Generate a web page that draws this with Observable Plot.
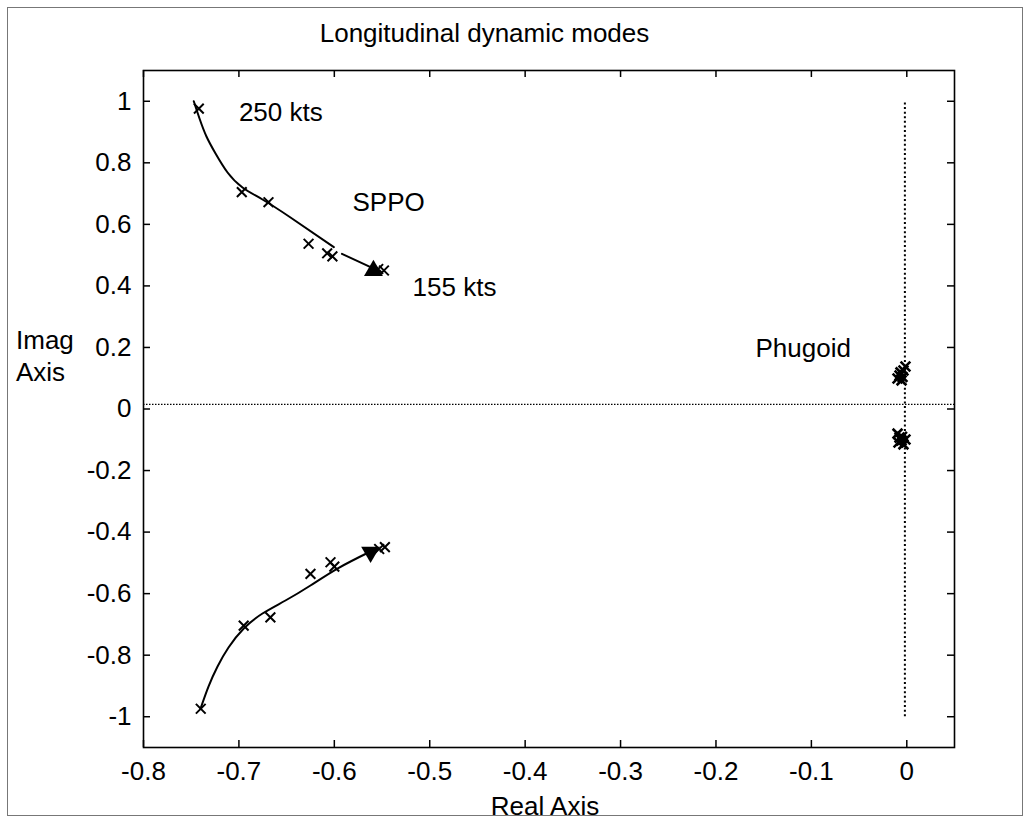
<!DOCTYPE html>
<html>
<head>
<meta charset="utf-8">
<script src="https://cdn.jsdelivr.net/npm/d3@7"></script>
<script src="https://cdn.jsdelivr.net/npm/@observablehq/plot@0.6"></script>
<style>
  body { margin: 0; background: #fff; }
  #wrap { position: relative; width: 1030px; height: 822px; overflow: hidden;
          font-family: "Liberation Sans", Arial, Helvetica, sans-serif; color: #000; }
  .lbl { position: absolute; font-size: 26px; line-height: 26px; white-space: nowrap; }
  #border { position: absolute; left: 7px; top: 7px; width: 1014px; height: 807px; border: 1px solid #777; }
  #chart { position: absolute; left: 0; top: 0; }
</style>
</head>
<body>
<div id="wrap">
  <div id="border"></div>
  <div id="chart"></div>
  <div class="lbl" style="left:484.5px; top:20px; transform:translateX(-50%);">Longitudinal dynamic modes</div>
  <div class="lbl" style="left:16px; top:325px; line-height:31.7px;">Imag<br>Axis</div>
  <div class="lbl" style="left:545px; top:793px; transform:translateX(-50%);">Real Axis</div>
</div>
<script>
// ---- axis ticks ----
const xTicks = [-0.8, -0.7, -0.6, -0.5, -0.4, -0.3, -0.2, -0.1, 0];
const yTicks = [-1, -0.8, -0.6, -0.4, -0.2, 0, 0.2, 0.4, 0.6, 0.8, 1];

// ---- SPPO poles (x marks), upper branch ----
const sppoUpperRe = [-0.742, -0.697, -0.669, -0.627, -0.6075, -0.602, -0.554, -0.548];
const sppoUpperIm = [0.976, 0.705, 0.672, 0.537, 0.506, 0.496, 0.455, 0.450];
// ---- SPPO poles (x marks), lower branch ----
const sppoLowerRe = [-0.740, -0.695, -0.667, -0.625, -0.604, -0.600, -0.553, -0.547];
const sppoLowerIm = [-0.974, -0.704, -0.677, -0.536, -0.498, -0.512, -0.455, -0.449];

// ---- SPPO trend curves (250 kts -> 155 kts) ----
const upperCurveARe = [-0.7473, -0.7413, -0.7340, -0.7245, -0.7119, -0.6962, -0.6753, -0.6459, -0.6005];
const upperCurveAIm = [1.000, 0.9441, 0.8856, 0.8303, 0.7686, 0.7199, 0.6808, 0.6224, 0.5258];
const upperCurveBRe = [-0.592, -0.562];
const upperCurveBIm = [0.504, 0.461];
const lowerCurveRe = [-0.7403, -0.7319, -0.7224, -0.7109, -0.6949, -0.6753, -0.6512, -0.6250, -0.5967, -0.5621];
const lowerCurveIm = [-0.9743, -0.9018, -0.8369, -0.7751, -0.7134, -0.6646, -0.6223, -0.5736, -0.5184, -0.4630];

// ---- 155 kts arrow heads ----
const arrowUpRe = [-0.559];
const arrowUpIm = [0.450];
const arrowDownRe = [-0.562];
const arrowDownIm = [-0.465];

// ---- Phugoid poles ----
const phugoidRe = [-0.0097, -0.0066, -0.0035, -0.0014, -0.0076, -0.0055, -0.0045,
                   -0.0097, -0.0076, -0.0055, -0.0035, -0.0014, -0.0087, -0.0050];
const phugoidIm = [0.099, 0.119, 0.125, 0.138, 0.109, 0.093, 0.104,
                   -0.080, -0.093, -0.102, -0.115, -0.099, -0.109, -0.090];

// ---- guide lines ----
const zeroLineIm = [0.015];
const phugoidGuideRe = [-0.002];
const phugoidGuideSpan = [-1, 1];

// ---- annotations ----
const labelTexts = ["250 kts", "SPPO", "155 kts", "Phugoid"];
const labelRe = [-0.700, -0.581, -0.518, -0.1586];
const labelIm = [0.963, 0.669, 0.393, 0.197];

const pts = (re, im) => re.map((x, i) => ({x, y: im[i]}));

const W = 1030, H = 822, mL = 143, mR = 76, mT = 70, mB = 75;
const frameW = W - mL - mR, frameH = H - mT - mB, tick = 7;
const fmt = d => String(d);
const FONT = "'Liberation Sans', Arial, Helvetica, sans-serif";

const chart = Plot.plot({
  width: W, height: H,
  marginLeft: mL, marginRight: mR, marginTop: mT, marginBottom: mB,
  style: {fontSize: "26px", fontFamily: FONT, background: "transparent", color: "#000"},
  x: {domain: [-0.8, 0.05]},
  y: {domain: [-1.1, 1.1]},
  marks: [
    Plot.ruleY(zeroLineIm, {stroke: "#000", strokeWidth: 1.2, strokeDasharray: "1.5,1.5"}),
    Plot.ruleX(phugoidGuideRe, {y1: phugoidGuideSpan[0], y2: phugoidGuideSpan[1], stroke: "#000", strokeWidth: 2, strokeDasharray: "2,2.6"}),
    Plot.line(pts(upperCurveARe, upperCurveAIm), {x: "x", y: "y", curve: "natural", stroke: "#000", strokeWidth: 2}),
    Plot.line(pts(upperCurveBRe, upperCurveBIm), {x: "x", y: "y", stroke: "#000", strokeWidth: 2}),
    Plot.line(pts(lowerCurveRe, lowerCurveIm), {x: "x", y: "y", curve: "natural", stroke: "#000", strokeWidth: 2}),
    Plot.dot(pts(sppoUpperRe, sppoUpperIm), {x: "x", y: "y", symbol: "times", r: 4.5, stroke: "#000", strokeWidth: 2}),
    Plot.dot(pts(sppoLowerRe, sppoLowerIm), {x: "x", y: "y", symbol: "times", r: 4.5, stroke: "#000", strokeWidth: 2}),
    Plot.dot(pts(phugoidRe, phugoidIm), {x: "x", y: "y", symbol: "times", r: 4.5, stroke: "#000", strokeWidth: 2.6}),
    Plot.dot(pts(arrowUpRe, arrowUpIm), {x: "x", y: "y", symbol: "triangle", r: 7, fill: "#000", stroke: "none"}),
    Plot.dot(pts(arrowDownRe, arrowDownIm), {x: "x", y: "y", symbol: "triangle", r: 7, rotate: 180, fill: "#000", stroke: "none"}),
    Plot.text(labelTexts, {x: (d, i) => labelRe[i], y: (d, i) => labelIm[i], text: d => d, textAnchor: "start", fontSize: 26, fill: "#000"}),
    // inward ticks on all four sides
    Plot.tickX(xTicks, {x: d => d, insetTop: frameH - tick, stroke: "#000", strokeWidth: 1.5}),
    Plot.tickX(xTicks, {x: d => d, insetBottom: frameH - tick, stroke: "#000", strokeWidth: 1.5}),
    Plot.tickY(yTicks, {y: d => d, insetRight: frameW - tick, stroke: "#000", strokeWidth: 1.5}),
    Plot.tickY(yTicks, {y: d => d, insetLeft: frameW - tick, stroke: "#000", strokeWidth: 1.5}),
    Plot.frame({stroke: "#000", strokeWidth: 1.6}),
    Plot.axisX(xTicks, {anchor: "bottom", tickSize: 0, tickPadding: 14, tickFormat: fmt, fontSize: 26, label: null}),
    Plot.axisY(yTicks, {anchor: "left", tickSize: 0, tickPadding: 12, tickFormat: fmt, fontSize: 26, label: null})
  ]
});
document.getElementById("chart").appendChild(chart);
</script>
</body>
</html>
